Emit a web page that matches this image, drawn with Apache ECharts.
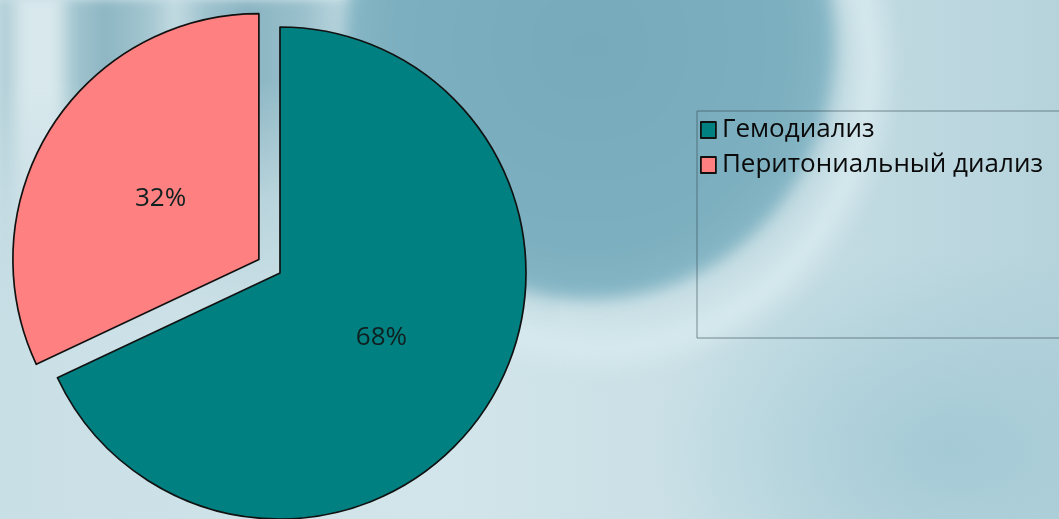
<!DOCTYPE html>
<html>
<head>
<meta charset="utf-8">
<script src="https://cdn.jsdelivr.net/npm/echarts@6/dist/echarts.min.js"></script>
<style>
  html, body { margin: 0; padding: 0; width: 1059px; height: 519px; overflow: hidden; }
  body {
    position: relative;
    background: linear-gradient(90deg, #c9dfe6 0%, #d2e5ea 40%, #c8dfe5 70%, #b6d3dc 100%);
  }
  .bg { position: absolute; pointer-events: none; }
  /* darker lower-right wash */
  #wash {
    left: 650px; top: 250px; width: 600px; height: 400px;
    background: radial-gradient(ellipse closest-side, rgba(160,200,212,0.85), rgba(160,200,212,0));
  }
  /* light halo ring */
  #halo {
    left: 300px; top: -250px; width: 600px; height: 630px; border-radius: 50%;
    background: radial-gradient(closest-side, rgba(214,233,238,0) 80%, rgba(214,233,238,0.95) 90%, rgba(214,233,238,0) 100%);
    filter: blur(6px);
  }
  /* large blurred blob at the top */
  #blob {
    left: 345px; top: -210px; width: 490px; height: 510px; border-radius: 50%;
    background: radial-gradient(closest-side, #77aabb 0%, #7cafbf 80%, #86b6c5 100%);
    filter: blur(8px);
  }
  /* vertical streaks along the top-left */
  #streaks {
    left: 0; top: 0; width: 560px; height: 330px;
    background: linear-gradient(90deg,
      #a9c8d2 0px, #d8e8ec 25px, #d8e8ec 55px, #a2c5cf 75px, #8db6c3 105px,
      #a5c7d1 150px, #c3dbe2 175px, #9fc3ce 205px, #8ab4c2 245px, #98bfcb 300px,
      #bcd7df 345px, #9cc3ce 385px, #86b8c7 430px, #86b6c5 560px);
    -webkit-mask-image: linear-gradient(to bottom, #000 0%, #000 25%, rgba(0,0,0,0.35) 60%, transparent 100%);
    mask-image: linear-gradient(to bottom, #000 0%, #000 25%, rgba(0,0,0,0.35) 60%, transparent 100%);
    filter: blur(4px);
  }
  #chart { position: absolute; left: 0; top: 0; width: 1059px; height: 519px; }
</style>
</head>
<body>
<div class="bg" id="wash"></div>
<div class="bg" id="halo"></div>
<div class="bg" id="streaks"></div>
<div class="bg" id="blob"></div>
<div id="chart"></div>
<script>
// Share of dialysis methods, percent
const categories = ['Гемодиализ', 'Перитониальный диализ'];
const shares = [68, 32];
const sliceColors = ['#008080', '#ff8080'];
// the peritoneal slice is pulled out of the pie
const pulledOut = [false, true];
// small nudges of the in-slice percentage labels
const labelNudges = [[-5, -3], [8, 7]];

const chart = echarts.init(document.getElementById('chart'), null, { renderer: 'canvas' });

const fontFamily = '"Open Sans", "Noto Sans", sans-serif';

chart.setOption({
  backgroundColor: 'transparent',
  animation: false,
  legend: {
    orient: 'vertical',
    left: 697,
    top: 111,
    padding: [6, 200, 160, 3],
    itemGap: 9,
    itemWidth: 15,
    itemHeight: 16,
    icon: 'rect',
    borderColor: 'rgba(55,75,85,0.6)',
    borderWidth: 1,
    selectedMode: false,
    itemStyle: { borderColor: '#111', borderWidth: 1.8 },
    textStyle: {
      fontFamily: fontFamily,
      fontSize: 26,
      lineHeight: 26,
      color: '#0a0a0a',
      padding: [0, 0, 0, 1]
    },
    data: categories
  },
  series: [{
    type: 'pie',
    center: [280, 273],
    radius: 246,
    startAngle: 90,
    clockwise: true,
    selectedMode: 'single',
    selectedOffset: 25,
    silent: true,
    itemStyle: { borderColor: '#111', borderWidth: 1.7 },
    label: {
      show: true,
      position: 'inside',
      formatter: '{c}%',
      fontFamily: fontFamily,
      fontSize: 26,
      color: '#0f2020'
    },
    labelLine: { show: false },
    emphasis: { disabled: true },
    data: categories.map((name, i) => ({
      name: name,
      value: shares[i],
      selected: pulledOut[i],
      itemStyle: { color: sliceColors[i] },
      label: { offset: labelNudges[i] },
      select: { label: { offset: labelNudges[i] } }
    }))
  }]
});
</script>
</body>
</html>
